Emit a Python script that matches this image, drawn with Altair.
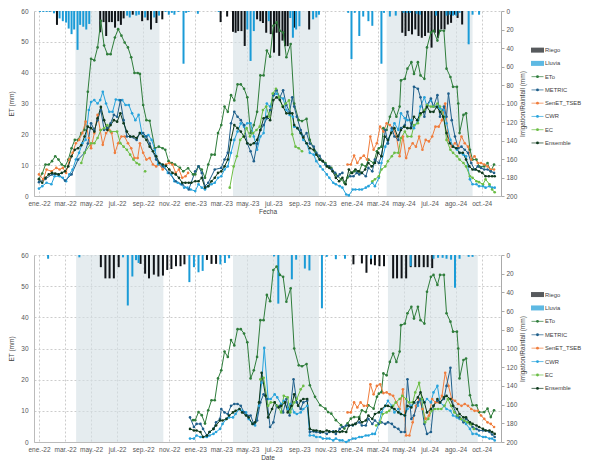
import altair as alt
import pandas as pd

# ---------------- axis labels / ticks ----------------
X_LABELS = ['ene.-22', 'mar.-22', 'may.-22', 'jul.-22', 'sep.-22', 'nov.-22',
            'ene.-23', 'mar.-23', 'may.-23', 'jul.-23', 'sep.-23', 'nov.-23',
            'ene.-24', 'mar.-24', 'may.-24', 'jul.-24', 'ago.-24', 'oct.-24']
X_TICKS = list(range(0, 35, 2))          # months since Jan-2022
ET_TICKS = list(range(0, 61, 10))
BAR_TICKS = list(range(0, 201, 20))

SERIES = ['ETo', 'METRIC', 'SenET_TSEB', 'CWR', 'EC', 'Ensemble']
SERIES_COLORS = ['#2f7d3b', '#1f5f8b', '#f07d3d', '#27a3dc', '#6bbd45', '#0e3a1d']
SERIES_WIDTHS = [1.1, 1.1, 1.0, 1.0, 1.0, 2.0]
DRAW_ORDER = ['ETo', 'SenET_TSEB', 'CWR', 'METRIC', 'EC', 'Ensemble']
RIEGO_C = '#101418'
LLUVIA_C = '#1a9bd7'

LEGEND_NAMES = ['Riego', 'Lluvia'] + SERIES
LEGEND_KINDS = ['bar', 'bar'] + ['line'] * 6
LEGEND_COLORS = [RIEGO_C, LLUVIA_C] + SERIES_COLORS
LEGEND_WIDTHS = [1, 1] + SERIES_WIDTHS

# growing-season shading (month index)
TOP_SEASONS = [(2.8, 9.25), (14.9, 21.5), (26.7, 33.3)]
BOT_SEASONS = [(2.85, 9.55), (14.9, 21.5), (26.8, 33.7)]

# ---------------- data (month index, value); None = gap ----------------
TOP_ETO = [(0, 5.6), (0.25, 7.3), (0.5, 10.2), (0.75, 10.2), (1, 11.3), (1.25, 12.9), (1.5, 11.8), (1.75, 10.2),
           (2, 9.6), (2.25, 11.8), (2.5, 15.5), (2.75, 18.2), (3, 18.2), (3.25, 20.4), (3.5, 21.4), (3.75, 33.8),
           (4, 44.5), (4.25, 44.0), (4.5, 48.2), (4.75, 56.8), (5, 48.8), (5.25, 46.0), (5.5, 46.0), (5.83, 51.4),
           (6.08, 54.1), (6.33, 52.0), (6.58, 49.8), (6.83, 48.2), (7.08, 45.0), (7.33, 39.9), (7.58, 39.9),
           (7.75, 39.6), (8, 29.5), (8.25, 24.6), (8.5, 24.4), (8.9, 15.5), (9.2, 16.0), (9.5, 15.5), (9.7, 15.0),
           (9.95, 11.3), (10.2, 10.7), (10.45, 10.2), (10.83, 9.1), (11.08, 8.0), (11.45, 9.0), (11.83, 7.0),
           (12, 7.0), (12.25, 9.6), (12.5, 8.6), (12.75, 5.9), (13, 10.2), (13.25, 13.4), (13.5, 13.4),
           (13.75, 20.4), (14, 23.0), (14.25, 29.0), (14.5, 27.3), (14.75, 32.7), (15, 31.0), (15.25, 36.2),
           (15.5, 36.2), (15.75, 34.8), (16, 32.0), (16.25, 20.4), (16.5, 23.0), (16.75, 27.3), (17, 39.1),
           (17.25, 39.1), (17.5, 47.2), (17.75, 45.2), (18, 55.2), (18.25, 56.3), (18.5, 53.6), (18.75, 53.0),
           (19, 45.0), (19.33, 49.3), (19.6, 30.0), (19.95, 24.6), (20.2, 24.3), (20.55, 25.0), (20.8, 18.2),
           (21.2, 14.5), (21.6, 11.8), (22, 10.7), (22.2, 9.6), (22.45, 9.1), (22.8, 7.0), (23.2, 5.4),
           (23.45, 4.3), (23.7, 6.0), (23.95, 7.5), (24.2, 8.0), (24.6, 8.0), (24.8, 10.2), (25.1, 9.6),
           (25.3, 11.8), (25.7, 10.7), (25.95, 14.5), (26.1, 15.5), (26.3, 16.0), (26.45, 22.0), (26.7, 21.4),
           (26.95, 25.7), (27.2, 28.4), (27.45, 25.7), (27.7, 29.0), (27.8, 37.5), (28.1, 38.0), (28.3, 41.3),
           (28.6, 43.4), (28.8, 39.6), (29.1, 43.4), (29.3, 39.1), (29.6, 38.0), (29.8, 48.2), (30.1, 53.0),
           (30.3, 53.6), (30.6, 50.4), (30.8, 53.6), (31.1, 53.6), (31.3, 41.3), (31.6, 38.6), (31.8, 35.4),
           (32.1, 35.4), (32.2, 30.0), (32.3, 20.4), (32.6, 26.3), (32.8, 26.8), (33.1, 15.0), (33.3, 11.8),
           (33.6, 11.8), (33.8, 9.6), (34.2, 9.6), (34.45, 10.7), (34.7, 8.0), (34.95, 10.2)]

TOP_METRIC = [(0, 4.5), (0.5, 5.5), (1, 7.0), (1.5, 7.0), (2, 5.0), (2.5, 7.0), (3, 11.8), (3.5, 14.0),
              (3.75, 17.0), (4, 23.6), (4.25, 21.4), (4.5, 24.6), (4.75, 27.9), (5, 21.4), (5.25, 22.0),
              (5.5, 23.6), (5.75, 26.3), (6, 25.7), (6.25, 31.0), (6.5, 24.6), (6.75, 19.3), (7, 19.3),
              (7.5, 18.2), (7.75, 20.4), (8, 20.4), (8.25, 19.3), (8.5, 17.0), (9, 11.8), (9.5, 9.6),
              (10, 7.5), (10.5, 4.8), (11, 3.8), (11.5, 2.1), (12, 8.0), (12.25, 9.6), (12.5, 7.5),
              (12.75, 3.2), (13, 4.3), (13.5, 8.6), (14, 9.1), (14.25, 11.8), (14.5, 14.0), (14.75, 23.6),
              (15, 27.3), (15.25, 25.7), (15.5, 24.6), (15.75, 23.0), (16, 17.0), (16.25, 14.5), (16.5, 11.3),
              (16.75, 17.0), (17, 21.4), (17.25, 23.0), (17.5, 25.2), (17.75, 27.9), (18, 32.7), (18.25, 34.3),
              (18.5, 32.0), (18.75, 34.3), (19, 29.5), (19.25, 27.3), (19.45, 32.0), (19.6, 29.0), (19.8, 25.7),
              (20.1, 21.4), (20.3, 19.3), (20.55, 20.4), (20.8, 17.0), (21.1, 16.0), (21.3, 14.0), (21.55, 13.0),
              (21.8, 11.3), (22, 10.2), (22.3, 9.6), (22.5, 8.6), (22.75, 7.5), (22.95, 6.4), (23.1, 7.0),
              (23.3, 7.5), None,
              (23.9, 6.4), (24.15, 6.4), (24.4, 7.5), (24.6, 7.0), (24.8, 7.5), (25.1, 6.4), (25.3, 9.1),
              (25.6, 8.0), (25.8, 11.8), (26.1, 10.7), (26.3, 12.9), (26.6, 21.4), (26.8, 17.0), (27.1, 22.0),
              (27.3, 19.3), (27.6, 18.2), (27.8, 22.0), (28.1, 23.0), (28.3, 27.3), (28.6, 22.5), (28.8, 35.4),
              (29.1, 34.8), (29.3, 32.0), (29.6, 25.7), (29.8, 29.5), (30.1, 31.6), (30.3, 29.0), (30.6, 32.7),
              (30.8, 25.7), (31.1, 29.0), (31.3, 25.7), (31.45, 33.2), (31.7, 24.6), (31.95, 19.3), (32.2, 15.5),
              (32.45, 16.0), (32.7, 15.0), (32.95, 14.0), (33.2, 10.7), (33.45, 8.6), (33.7, 9.6), (33.95, 9.1),
              (34.2, 8.6), (34.45, 8.6), (34.7, 8.0), (34.95, 7.5)]

TOP_TSEB = [(0, 7.0), (0.33, 5.4), (0.58, 8.6), (0.95, 8.0), (1.33, 9.1), (1.58, 8.6), (1.83, 9.1), (2.08, 7.5),
            (2.33, 11.8), (2.58, 14.0), (2.83, 17.1), (3.08, 18.2), (3.33, 20.4), (3.58, 24.1), (3.83, 18.8),
            (4, 15.5), (4.25, 20.4), (4.5, 26.3), (4.7, 21.4), (4.9, 16.6), (5.15, 20.4), (5.4, 21.4),
            (5.58, 20.4), (5.83, 14.0), (6.08, 17.1), (6.33, 19.3), (6.58, 19.3), (6.83, 17.1), (7.08, 15.5),
            (7.33, 12.3), (7.58, 12.3), (7.75, 17.1), (8, 14.0), (8.25, 11.8), (8.5, 12.3), (8.75, 10.2),
            (9, 9.6), (9.25, 10.2), (9.5, 8.6), (9.75, 10.2), (10, 10.7), (10.25, 10.2), (10.5, 7.5),
            (10.75, 8.6), (11, 5.9), (11.25, 6.4), (11.45, 7.5), None,
            (23.7, 10.2), (23.95, 10.2), (24.2, 13.1), (24.45, 10.7), (24.7, 12.3), (24.95, 13.1), (25.2, 11.8),
            (25.45, 19.3), (25.7, 15.0), (25.95, 17.1), (26.2, 22.5), (26.45, 20.9), (26.7, 23.6), (26.95, 23.0),
            (27.2, 22.0), (27.45, 19.3), (27.7, 12.9), (27.95, 19.3), (28.2, 12.3), (28.45, 15.5), (28.7, 17.1),
            (28.95, 16.0), (29.2, 19.3), (29.45, 15.0), (29.7, 18.2), (29.95, 17.7), (30.2, 19.3), (30.45, 22.5),
            (30.7, 22.5), (30.95, 24.6), (31.2, 30.0), (31.45, 18.2), (31.7, 16.0), (31.95, 17.1), (32.2, 16.0),
            (32.45, 19.3), (32.7, 17.1), (32.95, 16.0), (33.2, 11.8), (33.45, 12.9), (33.7, 10.7), (33.95, 10.7),
            (34.2, 10.2), (34.45, 9.6), (34.7, 8.6), (34.95, 8.6)]

TOP_CWR = [(0, 2.4), (0.25, 3.2), (0.58, 4.3), (0.95, 3.8), (1.2, 6.4), (1.58, 6.4), (1.83, 5.9), (2.08, 4.8),
           (2.33, 7.0), (2.58, 8.6), (2.83, 11.8), (3.08, 14.0), (3.33, 17.1), (3.58, 18.2), (3.83, 27.9),
           (4, 30.5), (4.25, 31.1), (4.5, 30.0), (4.7, 31.1), (4.9, 33.8), (5.15, 30.0), (5.4, 27.3),
           (5.65, 27.3), (5.9, 31.3), (6.15, 31.1), (6.4, 31.1), (6.65, 29.5), (6.9, 29.5), (7.15, 26.8),
           (7.4, 24.6), (7.65, 26.3), (7.9, 20.4), (8.15, 19.3), (8.4, 19.8), (8.65, 18.2), (8.9, 15.0),
           (9.15, 10.2), (9.4, 10.2), (9.65, 9.6), (9.9, 7.5), (10.15, 7.0), (10.4, 4.8), (10.65, 4.3),
           (10.9, 3.8), (11.15, 2.7), (11.4, 2.7), (11.65, 2.1), (12, 1.6), (12.25, 3.8), (12.5, 2.7),
           (12.75, 2.1), (13, 3.2), (13.25, 3.8), (13.5, 4.3), (13.75, 5.9), (14, 6.4), (14.25, 8.6),
           (14.5, 9.6), (14.75, 14.0), (15, 18.2), (15.25, 20.9), (15.5, 23.6), (15.75, 22.5), (16, 23.6),
           (16.25, 23.6), (16.5, 19.3), (16.75, 15.0), (17, 19.3), (17.25, 20.4), (17.5, 30.0), (17.75, 29.0),
           (18, 32.7), (18.25, 33.2), (18.5, 32.0), (18.75, 31.6), (19, 27.9), (19.25, 26.3), (19.5, 25.7),
           (19.6, 22.5), (19.85, 22.0), (20.1, 20.4), (20.3, 18.2), (20.55, 17.1), (20.8, 14.0), (21.1, 13.4),
           (21.3, 11.3), (21.6, 9.6), (21.8, 8.6), (22.1, 7.0), (22.3, 5.9), (22.6, 4.3), (22.8, 3.8),
           (23.1, 3.2), (23.3, 2.7), (23.6, 0.5), (23.8, 0.2), (24.1, 2.1), (24.3, 2.1), (24.6, 2.1),
           (24.8, 2.1), (25.1, 2.7), (25.3, 3.2), (25.6, 4.3), (25.8, 3.2), (26.1, 5.9), (26.3, 10.7),
           (26.6, 16.0), (26.8, 18.2), (27.1, 21.4), (27.3, 23.6), (27.6, 21.4), (27.8, 26.8), (28.1, 25.2),
           (28.3, 24.6), (28.6, 24.6), (28.8, 22.0), (29.1, 24.6), (29.3, 29.0), (29.6, 32.0), (29.8, 29.0),
           (30.1, 31.1), (30.3, 29.0), (30.6, 29.0), (30.8, 28.4), (31.1, 27.9), (31.3, 23.6), (31.6, 18.2),
           (31.8, 16.0), (32.1, 15.0), (32.3, 14.0), (32.6, 13.4), (32.8, 12.9), (33.1, 5.4), (33.3, 3.8),
           (33.6, 3.8), (33.8, 3.2), (34.1, 3.2), (34.3, 2.7), (34.6, 3.2), (34.8, 2.7), (35.0, 2.7)]

TOP_EC = [(3.25, 10.7), (3.5, 14.0), (4, 17.1), (4.25, 17.1), (4.5, 18.8), (4.75, 21.4), (5, 22.0), (5.25, 23.0),
          (5.5, 20.9), (6, 20.9), (6.25, 17.1), (6.5, 16.0), (6.75, 15.0), (7, 13.4), (7.25, 11.8), (7.5, 10.7),
          (7.7, 10.2), None, (8.15, 8.0), None,
          (14.65, 2.7), (14.95, 9.6), (15.2, 12.9), (15.45, 18.2), (15.7, 19.3), (15.95, 22.0), (16.2, 19.3),
          (16.45, 20.4), (16.7, 21.4), (16.95, 22.5), (17.2, 27.9), (17.45, 29.0), (17.7, 25.7), (17.95, 33.2),
          (18.2, 34.8), (18.45, 32.0), (18.7, 29.0), (18.95, 30.0), (19.2, 31.0), (19.45, 20.0), (19.7, 16.0),
          (19.95, 15.5), (20.2, 14.5), None,
          (25.6, 4.8), (25.8, 5.4), (26.1, 6.4), (26.3, 8.6), (26.6, 9.6), (26.8, 11.3), (27.1, 12.9),
          (27.3, 14.0), (27.6, 14.0), (27.8, 18.8), (28.1, 20.9), (28.3, 19.3), (28.6, 19.3), (28.8, 23.0),
          (29.1, 23.6), (29.3, 26.3), (29.6, 27.9), (29.8, 29.5), (30.1, 29.0), (30.3, 29.0), (30.6, 30.0),
          (30.8, 29.0), (31.1, 25.7), (31.3, 18.2), (31.6, 15.0), (31.8, 14.0), (32.1, 12.9), (32.3, 11.8),
          (32.6, 10.7), (32.8, 9.6), (33.1, 6.4), (33.3, 5.9), (33.6, 4.8), (33.8, 4.5), (34.1, 3.8),
          (34.3, 5.4), (34.6, 3.8), (34.8, 2.1), (35.0, 1.2)]

TOP_ENS = [(0, 5.4), (0.25, 4.3), (0.5, 5.9), (0.75, 7.0), (1, 7.5), (1.25, 7.3), (1.5, 7.0), (1.75, 7.5),
           (2, 8.0), (2.25, 9.6), (2.5, 12.9), (2.75, 15.0), (3, 15.5), (3.25, 16.5), (3.5, 19.3), (3.75, 22.5),
           (4, 22.0), (4.25, 20.9), (4.5, 25.2), (4.75, 28.9), (5, 24.6), (5.25, 21.4), (5.5, 23.0), (5.75, 24.6),
           (6, 24.1), (6.25, 26.8), (6.5, 23.6), (6.75, 20.9), (7, 19.3), (7.25, 19.3), (7.5, 18.8), (7.75, 20.4),
           (8, 19.3), (8.25, 18.2), (8.5, 16.0), (8.75, 14.5), (9, 12.9), (9.25, 10.7), (9.5, 10.2), (9.75, 9.8),
           (10, 8.6), (10.25, 7.5), (10.5, 7.0), (10.75, 5.9), (11, 4.3), (11.25, 4.3), (11.5, 4.3), (11.7, 4.3),
           (12, 4.8), (12.25, 4.8), (12.5, 5.9), (12.75, 2.7), (13, 3.2), (13.25, 4.8), (13.5, 5.9), (13.75, 7.5),
           (14, 8.0), (14.25, 9.6), (14.5, 11.8), (14.75, 18.2), (15, 23.0), (15.25, 22.0), (15.5, 20.9),
           (15.75, 19.3), (16, 17.1), (16.25, 16.6), (16.5, 17.1), (16.75, 18.2), (17, 21.4), (17.25, 25.2),
           (17.5, 25.7), (17.75, 24.6), (18, 31.1), (18.25, 32.0), (18.5, 31.1), (18.75, 28.9), (19, 26.8),
           (19.25, 26.8), (19.45, 26.8), (19.6, 23.0), (19.85, 22.0), (20.1, 20.4), (20.3, 19.0), (20.55, 17.1),
           (20.8, 15.5), (21.1, 15.0), (21.3, 13.4), (21.55, 11.8), (21.8, 11.3), (22.1, 9.6), (22.3, 9.1),
           (22.55, 8.0), (22.8, 5.9), (23.05, 4.8), (23.3, 5.9), (23.55, 3.8), (23.8, 8.6), (24.05, 7.5),
           (24.3, 8.6), (24.55, 8.0), (24.8, 7.5), (25.05, 8.6), (25.3, 10.7), (25.55, 9.6), (25.8, 10.7),
           (26.05, 14.0), (26.3, 12.9), (26.55, 19.3), (26.8, 18.2), (27.05, 20.4), (27.3, 22.0), (27.55, 19.3),
           (27.8, 21.4), (28.05, 22.5), (28.3, 22.0), (28.55, 22.0), (28.8, 25.7), (29.05, 24.6), (29.3, 26.8),
           (29.55, 27.3), (29.8, 28.9), (30.05, 27.3), (30.3, 27.3), (30.55, 28.9), (30.8, 27.3), (31.05, 25.7),
           (31.3, 20.4), (31.55, 17.1), (31.8, 16.0), (32.05, 15.5), (32.3, 14.0), (32.55, 14.0), (32.8, 11.8),
           (33.05, 9.6), (33.3, 8.6), (33.55, 8.6), (33.8, 8.0), (34.05, 7.5), (34.3, 6.4), (34.55, 6.4),
           (34.8, 6.4), (35.0, 6.4)]

BOT_ETO = [p for p in TOP_ETO if p[0] >= 11.8]

BOT_METRIC = [(11.6, 7.9), (11.9, 4.8), (12.1, 5.8), (12.4, 5.8), (12.6, 4.2), (12.9, 2.1), (13.1, 3.2),
              (13.4, 4.2), (13.6, 6.3), (13.9, 7.4), (14, 10.6), (14.25, 9.5), (14.5, 9.0), (14.75, 11.6),
              (15, 12.2), (15.25, 12.2), (15.5, 11.6), (15.75, 9.5), (16, 8.5), (16.25, 8.5), (16.5, 5.8),
              (16.75, 6.9), (17, 12.7), (17.25, 15.3), (17.5, 13.8), (17.75, 4.8), (18, 6.3), (18.25, 11.6),
              (18.5, 11.6), (18.75, 9.5), (19, 13.8), (19.25, 8.5), (19.55, 20.1), (19.8, 12.7), (20.1, 10.6),
              (20.3, 12.7), (20.6, 13.2), (20.8, 3.2), (21.1, 3.4), (21.3, 3.2), (21.6, 3.0), (21.8, 3.2),
              (22.1, 2.6), (22.3, 3.2), (22.6, 3.4), (22.8, 2.6), (23.1, 4.2), (23.3, 4.8), (23.6, 5.3),
              (23.8, 5.3), (24.1, 5.3), (24.3, 5.8), (24.6, 6.3), (24.8, 5.3), (25.1, 5.3), (25.3, 7.4),
              (25.6, 5.8), (25.8, 6.9), (26.1, 5.8), (26.3, 6.3), (26.6, 5.8), (26.8, 6.3), (27.1, 5.8),
              (27.3, 4.8), (27.6, 4.2), (27.8, 3.2), (28.1, 3.2), (28.3, 20.1), (28.6, 7.4), (28.8, 8.5),
              (29.1, 12.7), (29.3, 13.8), (29.6, 5.8), (29.8, 2.6), (30.1, 3.2), (30.3, 11.6), (30.6, 13.2),
              (30.8, 12.7), (31.1, 13.8), (31.3, 18.0), (31.6, 23.8), (31.8, 11.6), (32.1, 8.5), (32.3, 7.9),
              (32.6, 6.3), (32.8, 7.4), (33.1, 5.8), (33.3, 4.8), (33.6, 4.2), (33.8, 3.7), (34.1, 3.7),
              (34.3, 3.7), (34.6, 3.2), (34.8, 2.4), (35.0, 1.6)]

BOT_TSEB = [(23.7, 9.5), (23.95, 9.5), (24.2, 12.7), (24.45, 11.1), (24.7, 12.7), (24.95, 11.6), (25.2, 11.6),
            (25.45, 18.5), (25.7, 15.3), (25.95, 18.0), (26.2, 18.5), (26.45, 15.7), (26.7, 15.9), (26.95, 15.3),
            (27.2, 14.8), (27.45, 12.7), (27.7, 10.6), (27.95, 16.9), (28.2, 2.1), (28.45, 2.1), (28.7, 6.3),
            (28.95, 11.6), (29.2, 13.8), (29.45, 10.6), (29.7, 7.4), (29.95, 8.5), (30.2, 13.8), (30.45, 12.7),
            (30.7, 12.7), (30.95, 14.8), (31.2, 22.2), (31.45, 18.0), (31.7, 13.8), (31.95, 13.2), (32.2, 12.2),
            (32.45, 11.6), (32.7, 12.2), (32.95, 11.6), (33.2, 10.6), (33.45, 10.0), (33.7, 10.0), (33.95, 8.5),
            (34.2, 7.4), (34.45, 6.3), (34.7, 5.8), (34.95, 4.8)]

BOT_CWR = [(11.6, 1.1), (11.9, 1.1), (12.1, 2.1), (12.4, 1.6), (12.6, 1.6), (12.9, 1.6), (13.1, 2.1),
           (13.4, 2.6), (13.6, 3.2), (13.9, 4.2), (14.1, 5.8), (14.4, 7.4), (14.6, 7.9), (14.9, 7.9),
           (15.1, 9.0), (15.4, 10.6), (15.6, 10.0), (15.9, 9.5), (16.1, 7.4), (16.4, 5.8), (16.6, 5.3),
           (16.9, 11.6), (17.1, 19.0), (17.3, 30.2), (17.6, 13.8), (17.8, 13.8), (18.1, 15.3), (18.3, 14.3),
           (18.6, 12.2), (18.8, 13.2), (19.1, 10.6), (19.3, 12.2), (19.6, 9.5), (19.8, 9.0), (20.1, 9.5),
           (20.3, 10.6), (20.6, 11.6), (20.8, 2.1), (21.1, 2.1), (21.3, 1.6), (21.6, 1.6), (21.8, 1.1),
           (22.1, 1.1), (22.3, 1.1), (22.6, 0.5), (22.8, 1.1), (23.1, 0.5), (23.3, 0.5), (23.6, 0.0),
           (23.8, 0.5), (24.1, 1.1), (24.3, 1.1), (24.6, 1.6), (24.8, 1.6), (25.1, 2.1), (25.3, 2.1),
           (25.6, 2.6), (25.8, 2.6), (26.1, 5.8), (26.3, 9.5), (26.6, 11.6), (26.8, 13.2), (27.1, 11.6),
           (27.3, 9.5), (27.6, 10.6), (27.8, 9.0), (28.1, 8.5), (28.3, 10.6), (28.6, 11.6), (28.8, 12.7),
           (29.1, 11.6), (29.3, 13.8), (29.6, 12.7), (29.8, 13.8), (30.1, 12.7), (30.3, 15.9), (30.6, 18.0),
           (30.8, 12.7), (31.1, 11.6), (31.3, 10.6), (31.6, 10.0), (31.8, 8.5), (32.1, 7.9), (32.3, 7.4),
           (32.6, 6.9), (32.8, 5.8), (33.1, 4.2), (33.3, 2.6), (33.6, 2.6), (33.8, 2.1), (34.1, 1.6),
           (34.3, 1.6), (34.6, 1.1), (34.8, 1.1), (35.0, 0.5)]

BOT_EC = [(17.0, 20.1), (17.25, 20.6), (17.6, 11.6), (17.8, 12.7), (18.1, 12.7), (18.3, 11.6), (18.6, 9.5),
          (18.8, 14.8), (19.1, 14.3), (19.3, 9.5), (19.6, 12.7), (19.8, 13.8), (20.1, 16.9), (20.3, 18.0), None,
          (25.9, 5.3), (26.2, 6.3), (26.4, 9.0), (26.7, 9.5), (26.9, 10.0), (27.2, 11.6), (27.4, 12.7),
          (27.7, 13.8), (27.9, 14.8), (28.2, 13.8), (28.4, 12.7), (28.7, 12.7), (28.9, 15.9), (29.2, 19.0),
          (29.4, 13.8), (29.65, 6.3), (29.9, 7.4), (30.15, 10.0), (30.4, 10.6), (30.65, 10.6), (30.9, 10.6),
          (31.15, 11.6), (31.4, 13.8), (31.65, 11.6), (31.9, 9.5), (32.15, 8.5), (32.4, 7.4), (32.65, 6.9),
          (32.9, 6.3), (33.15, 5.8), (33.4, 4.2)]

BOT_ENS = [(11.6, 4.2), (11.9, 3.7), (12.1, 3.7), (12.4, 3.2), (12.6, 1.6), (12.9, 2.1), (13.1, 3.2),
           (13.4, 4.2), (13.6, 5.3), (13.9, 6.9), (14.1, 6.9), (14.4, 7.4), (14.6, 8.5), (14.9, 9.5),
           (15.1, 10.0), (15.4, 10.6), (15.6, 9.5), (15.9, 8.5), (16.1, 7.9), (16.4, 5.8), (16.6, 6.3),
           (16.9, 12.7), (17.1, 22.2), (17.4, 14.8), (17.6, 7.9), (17.9, 10.6), (18.1, 12.7), (18.4, 11.1),
           (18.6, 11.6), (18.9, 12.7), (19.1, 9.5), (19.4, 11.6), (19.6, 15.3), (19.9, 11.6), (20.1, 13.2),
           (20.3, 13.8), (20.6, 13.8), (20.8, 4.2), (21.1, 3.7), (21.3, 3.7), (21.6, 3.4), (21.8, 3.2),
           (22.1, 3.7), (22.3, 3.4), (22.6, 3.2), (22.8, 3.4), (23.1, 3.2), (23.3, 3.4), (23.6, 3.2),
           (23.8, 5.3), (24.1, 5.5), (24.3, 5.8), (24.6, 7.4), (24.8, 6.3), (25.1, 6.9), (25.3, 8.5),
           (25.6, 7.4), (25.8, 9.0), (26.1, 9.5), (26.3, 10.6), (26.6, 11.6), (26.8, 11.6), (27.1, 11.1),
           (27.3, 10.6), (27.6, 9.5), (27.8, 9.0), (28.1, 8.5), (28.3, 11.6), (28.6, 11.1), (28.8, 12.7),
           (29.1, 14.3), (29.3, 15.9), (29.6, 12.7), (29.8, 9.5), (30.1, 10.6), (30.3, 11.6), (30.6, 13.8),
           (30.8, 12.7), (31.1, 14.3), (31.3, 14.8), (31.6, 13.8), (31.8, 11.6), (32.1, 10.6), (32.3, 9.0),
           (32.6, 7.9), (32.8, 7.9), (33.1, 6.3), (33.3, 5.8), (33.6, 5.3), (33.8, 4.8), (34.1, 4.2),
           (34.3, 3.7), (34.6, 3.7), (34.8, 3.2), (35.0, 2.6)]

# irrigation (Riego) and rainfall (Lluvia), mm, hanging from the top
TOP_RIEGO = [(1.38, 15), (4.7, 23), (4.96, 12), (5.16, 27), (5.39, 12), (5.6, 12), (5.84, 18), (6.09, 11),
             (6.29, 15), (6.5, 8), (7.2, 4), (7.92, 11), (8.35, 10), (8.6, 20), (9.02, 13), (9.47, 9),
             (13.95, 12), (14.45, 6), (14.9, 22.5), (15.1, 23.5), (15.3, 21.7), (15.55, 21.7), (15.8, 37.8),
             (16.75, 9), (17.0, 11), (17.2, 13), (17.45, 23.5), (17.8, 25), (18.05, 45), (18.25, 23.5),
             (18.45, 48.5), (18.7, 32), (18.9, 38), (19.1, 38), (19.6, 18), (20.75, 20),
             (27.9, 23.5), (28.15, 27), (28.4, 21.7), (28.65, 25.3), (28.9, 19.9), (29.15, 27), (29.4, 28.9),
             (29.65, 27), (29.9, 23.5), (30.15, 39.6), (30.4, 23.5), (30.65, 28.9), (30.9, 19.9), (31.15, 19.9),
             (31.4, 14.6), (31.65, 12.8), (31.9, 4), (32.15, 7.5), (32.5, 14.6)]

TOP_LLUVIA = [(0.08, 1), (0.33, 1), (0.58, 1), (0.83, 1), (1.15, 2.5), (1.58, 8), (1.83, 11), (2.08, 12.5),
              (2.28, 19), (2.5, 25), (2.7, 20), (2.96, 42), (3.16, 15), (3.4, 17), (3.63, 20), (3.86, 14),
              (6.77, 5), (6.97, 7), (7.47, 5), (7.67, 4), (8.15, 7), (8.85, 7), (9.22, 5), (9.72, 1), (9.97, 4),
              (10.2, 2), (10.4, 4), (10.7, 1), (11.1, 57), (11.3, 2), (11.5, 1), (12.2, 3), (13.8, 1),
              (16.0, 20), (16.25, 54), (16.5, 21.7), (17.65, 11), (19.3, 7.5), (19.5, 28.9), (19.75, 20),
              (20.0, 16.5), (21.05, 9), (21.3, 7), (21.5, 4), (23.75, 2), (24.0, 52), (24.25, 2), (24.6, 27),
              (24.9, 6), (25.3, 11), (25.6, 16), (26.3, 57), (26.5, 2), (26.95, 6), (27.4, 5), (28.0, 2),
              (28.25, 2), (28.5, 2), (29.0, 3), (29.25, 4), (30.5, 5), (31.3, 5), (31.55, 4), (31.8, 5),
              (32.05, 5), (32.3, 2), (33.0, 36), (33.3, 4), (33.8, 4)]

BOT_RIEGO = [(4.75, 13), (5.1, 25), (5.42, 25), (5.75, 25), (6.12, 13), (7.8, 9.5), (8.15, 20), (8.45, 25),
             (8.82, 21), (9.17, 23), (9.52, 22), (9.85, 16), (10.17, 15), (10.52, 12), (10.87, 12), (11.17, 10),
             (12.9, 5.3), (13.25, 9.5), (13.6, 9.5),
             (24.15, 10), (24.8, 9), (25.15, 19), (25.5, 10), (25.8, 11), (26.15, 12), (26.5, 12), (27.2, 25),
             (27.5, 25), (27.85, 25), (28.2, 25), (28.55, 13), (28.9, 13), (29.2, 13), (29.55, 13), (29.85, 13),
             (30.2, 14)]

BOT_LLUVIA = [(0.7, 4), (3.1, 2.5), (6.45, 2.5), (6.82, 54), (7.17, 23), (7.45, 5.5), (7.65, 8.5), (11.55, 29),
              (11.9, 13), (12.25, 18.5), (12.57, 17), (13.93, 10), (14.28, 8.5), (14.6, 3.5), (18.05, 1.5),
              (18.38, 52), (19.42, 26), (19.75, 5), (20.42, 14.5), (20.77, 16.5), (21.73, 57), (22.1, 2),
              (22.8, 4.5), (23.5, 4), (25.5, 4), (28.55, 12), (30.3, 4), (30.65, 3), (31.0, 3), (31.3, 4),
              (31.65, 5), (31.95, 35), (32.3, 4), (33.0, 2), (33.3, 2)]

# ---------------- build tables ----------------
def line_rows(series):
    rows = []
    for name in DRAW_ORDER:
        seg = 0
        for p in series[name]:
            if p is None:
                seg += 1
                continue
            rows.append({'name': name, 'seg': f'{name}-{seg}', 'm': p[0], 'v': p[1]})
    return pd.DataFrame(rows)


def bar_rows(riego, lluvia):
    rows = [{'name': 'Riego', 'm': m, 'v': v} for m, v in riego]
    rows += [{'name': 'Lluvia', 'm': m, 'v': v} for m, v in lluvia]
    return pd.DataFrame(rows)


TOP_LINES = line_rows({'ETo': TOP_ETO, 'METRIC': TOP_METRIC, 'SenET_TSEB': TOP_TSEB,
                       'CWR': TOP_CWR, 'EC': TOP_EC, 'Ensemble': TOP_ENS})
BOT_LINES = line_rows({'ETo': BOT_ETO, 'METRIC': BOT_METRIC, 'SenET_TSEB': BOT_TSEB,
                       'CWR': BOT_CWR, 'EC': BOT_EC, 'Ensemble': BOT_ENS})

LABEL_EXPR = '[' + ','.join(f"'{s}'" for s in X_LABELS) + '][round(datum.value / 2)]'

W = 467
FONT = 'Liberation Sans'
COLOR_SCALE = alt.Scale(domain=LEGEND_NAMES, range=LEGEND_COLORS)
WIDTH_SCALE = alt.Scale(domain=LEGEND_NAMES, range=LEGEND_WIDTHS)


def panel(lines_df, bars_df, seasons, xtitle, h):
    xs = alt.Scale(domain=[0, 35.1], nice=False, zero=False)
    xa = alt.Axis(values=X_TICKS, labelExpr=LABEL_EXPR, title=xtitle, grid=True, gridDash=[2, 2],
                  gridColor='#cccccc', ticks=False, labelPadding=4, domainColor='#bbbbbb',
                  labelFlush=False, titlePadding=2)
    shade_df = pd.DataFrame(seasons, columns=['s', 'e'])
    shade = alt.Chart(shade_df).mark_rect(color='#d3dfe5', opacity=0.6).encode(
        x=alt.X('s:Q', scale=xs, axis=xa),
        x2='e:Q',
        y=alt.YDatum(0, type='quantitative', scale=alt.Scale(domain=[0, 60], nice=False), axis=None),
        y2=alt.Y2Datum(60),
    )
    bars = alt.Chart(bars_df).mark_bar(size=2).encode(
        x=alt.X('m:Q', scale=xs, axis=xa),
        y=alt.Y('v:Q', stack=None,
                scale=alt.Scale(domain=[0, 200], reverse=True, nice=False),
                axis=alt.Axis(orient='right', values=BAR_TICKS, title='Irrigation/Rainfall (mm)',
                              grid=False, tickSize=3, tickColor='#aaaaaa', labelPadding=2,
                              domainColor='#aaaaaa', titleAngle=270, titleBaseline='top',
                              titlePadding=3)),
        color=alt.Color('name:N', scale=COLOR_SCALE, legend=None),
    )
    lines = alt.Chart(lines_df).mark_line(point=alt.OverlayMarkDef(filled=True, size=7)).encode(
        x=alt.X('m:Q', scale=xs, axis=xa),
        y=alt.Y('v:Q', scale=alt.Scale(domain=[0, 60], nice=False),
                axis=alt.Axis(values=ET_TICKS, title='ET (mm)', grid=True, gridDash=[2, 2],
                              gridColor='#cccccc', ticks=False, labelPadding=6, domainColor='#bbbbbb',
                              titlePadding=6)),
        color=alt.Color('name:N', scale=COLOR_SCALE, legend=None),
        strokeWidth=alt.StrokeWidth('name:N', scale=WIDTH_SCALE, legend=None),
        detail='seg:N',
    )
    return alt.layer(shade, bars, lines).resolve_scale(y='independent').properties(width=W, height=h)


def legend(h):
    df = pd.DataFrame({'name': LEGEND_NAMES, 'idx': list(range(len(LEGEND_NAMES))), 'kind': LEGEND_KINDS})
    ys = alt.Scale(domain=[-2.95, 11.0], reverse=True, nice=False, zero=False)
    base = alt.Chart(df).encode(y=alt.Y('idx:Q', scale=ys, axis=None))
    sw_bar = base.transform_filter("datum.kind == 'bar'").mark_tick(size=13, thickness=5).encode(
        x=alt.value(6.5), color=alt.Color('name:N', scale=COLOR_SCALE, legend=None))
    sw_line = base.transform_filter("datum.kind == 'line'").mark_tick(size=12, thickness=1).encode(
        x=alt.value(6.5), color=alt.Color('name:N', scale=COLOR_SCALE, legend=None))
    sw_pt = base.transform_filter("datum.kind == 'line'").mark_point(filled=True, size=8, opacity=1).encode(
        x=alt.value(6.5), color=alt.Color('name:N', scale=COLOR_SCALE, legend=None))
    txt = base.mark_text(align='left', baseline='middle', fontSize=5.8, color='#404040', font=FONT).encode(
        x=alt.value(14), text='name:N')
    return alt.layer(sw_bar, sw_line, sw_pt, txt).properties(width=36, height=h)


top = alt.hconcat(panel(TOP_LINES, bar_rows(TOP_RIEGO, TOP_LLUVIA), TOP_SEASONS, 'Fecha', 185),
                  legend(185), spacing=4)
bot = alt.hconcat(panel(BOT_LINES, bar_rows(BOT_RIEGO, BOT_LLUVIA), BOT_SEASONS, 'Date', 187),
                  legend(187), spacing=4)

chart = alt.vconcat(top, bot, spacing=37).properties(
    padding={'left': 0, 'top': 0, 'right': 0, 'bottom': 0}
).configure_view(stroke=None).configure_axis(
    labelFont=FONT, titleFont=FONT, labelFontSize=6.5, titleFontSize=6.5, titleFontWeight='normal',
    labelColor='#555555', titleColor='#444444'
)

chart.save('out.html', embed_options={'renderer': 'svg', 'actions': False})
